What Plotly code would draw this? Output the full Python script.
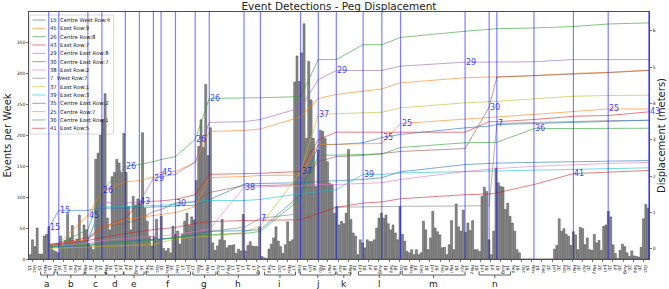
import plotly.graph_objects as go
import pandas as pd

# ---------------- data ----------------
week_center_start = "2015-09-23 12:00"
events = (
    [7, 31, 20, 50, 8, 8, 37, 40, 52, 20]
    + [14, 12, 10, 37, 20, 30, 73, 34, 54, 28]
    + [32, 71, 28, 55, 47, 25, 20, 15, 161, 171]
    + [200, 225, 267, 66, 47, 133, 140, 161, 155, 140]
    + [203, 140, 85, 47, 101, 87, 97, 90, 204, 82]
    + [61, 37, 21, 36, 64, 32, 69, 17, 13, 17]
    + [10, 53, 40, 45, 24, 40, 61, 74, 54, 68]
    + [63, 127, 182, 225, 180, 282, 167, 212, 26, 14]
    + [21, 31, 64, 30, 18, 22, 22, 23, 9, 16]
    + [13, 72, 13, 22, 28, 21, 20, 20, 52, 4]
    + [2, 1, 16, 24, 34, 52, 29, 20, 9, 23]
    + [60, 28, 31, 286, 328, 287, 333, 380, 195, 319]
    + [257, 195, 117, 176, 208, 206, 195, 157, 122, 120]
    + [74, 85, 55, 61, 57, 74, 177, 64, 42, 37]
    + [7, 31, 26, 18, 31, 28, 28, 31, 50, 66]
    + [74, 66, 71, 57, 47, 55, 42, 31, 85, 40]
    + [29, 12, 10, 15, 7, 15, 7, 10, 61, 47]
    + [15, 34, 77, 50, 44, 39, 18, 19, 7, 23]
    + [62, 15, 89, 52, 45, 79, 43, 58, 46, 62]
    + [15, 15, 12, 101, 116, 109, 31, 7, 45, 147]
    + [123, 117, 116, 80, 90, 69, 58, 45, 15, 10]
    + [0, 0, 0, 0, 0, 0, 0, 0, 0, 0]
    + [0, 0, 0, 0, 16, 22, 65, 45, 49, 40]
    + [37, 22, 44, 39, 15, 51, 49, 23, 34, 15]
    + [14, 40, 26, 30, 14, 53, 55, 77, 68, 23]
    + [9, 1, 14, 24, 20, 10, 4, 13, 5, 4]
    + [3, 19, 65, 88, 82]
)

survey_dates = ["2015-11-18", "2015-12-18", "2016-03-14", "2016-04-25", "2016-07-04",
                "2016-08-15", "2016-09-26", "2016-10-19", "2016-12-01", "2017-01-29",
                "2017-03-12", "2017-06-24", "2017-08-12", "2017-12-10", "2018-02-01",
                "2018-03-27", "2018-06-15", "2018-08-10", "2018-10-05", "2019-04-16",
                "2019-06-27", "2019-07-20", "2019-11-08", "2020-03-05", "2020-06-17",
                "2020-10-16"]

peg_ids = ["15", "45", "26", "43", "29", "30", "38", "7", "37", "39", "35", "25", "36", "41"]
peg_names = ["Centre West Row:4", "East Row:9", "Centre Row:8", "East Row:7",
             "Centre East Row:8", "Centre East Row:7", "East Row:2", "West Row:7",
             "East Row:1", "East Row:3", "Centre East Row:2", "Centre Row:7",
             "Centre East Row:1", "East Row:5"]

disp_15 = [0.58, 1.06, 1.06, 1.12, 1.12, 1.14, 1.16, 1.17, 1.19, 1.20, 1.35, 1.78, 1.80,
           1.82, 1.85, 1.87, 1.91, 1.96, 2.12, 2.32, 2.35, 2.36, 2.38, 2.40, 2.42, 2.43]
disp_45 = [0.12, 0.15, 0.92, 1.58, 1.84, 1.88, 1.98, 2.11, 2.13, 2.37, 3.23, 3.26, 3.30,
           3.63, 4.14, 4.25, 4.34, 4.40, 4.57, 4.71, 4.73, 4.73, 4.77, 4.83, 4.86, 4.92]
disp_26 = [0.12, 0.15, 0.53, 1.60, 2.27, 2.32, 2.40, 2.46, 2.54, 3.01, 4.14, 4.14, 4.16,
           4.19, 5.21, 5.21, 5.62, 5.62, 5.82, 5.99, 6.05, 6.06, 6.08, 6.12, 6.19, 6.22]
disp_43 = [0.12, 0.15, 0.31, 0.59, 0.83, 1.30, 1.31, 1.32, 1.36, 1.49, 2.05, 2.06, 2.08,
           2.13, 3.01, 3.21, 3.21, 3.21, 3.21, 3.21, 3.50, 3.50, 3.56, 3.65, 3.67, 3.77]
disp_29 = [0.06, 0.09, 0.20, 1.27, 1.27, 1.27, 1.95, 1.99, 2.05, 2.39, 3.48, 3.50, 3.56,
           3.88, 4.66, 4.91, 4.91, 4.91, 5.03, 5.14, 5.14, 5.14, 5.15, 5.21, 5.21, 5.21]
disp_30 = [0.09, 0.10, 0.26, 0.59, 0.70, 0.81, 1.03, 1.08, 1.26, 1.30, 1.55, 1.74, 1.74,
           1.77, 2.40, 2.54, 2.57, 2.62, 2.68, 2.76, 3.90, 4.73, 4.76, 4.81, 4.85, 4.91]
disp_38 = [0.06, 0.08, 0.15, 0.23, 0.28, 0.31, 0.34, 0.37, 0.39, 0.48, 0.53, 1.69, 1.70,
           1.74, 1.77, 1.77, 1.80, 1.82, 1.91, 2.13, 2.19, 2.21, 2.27, 2.32, 2.35, 2.38]
disp_7 = [0.04, 0.05, 0.09, 0.12, 0.17, 0.20, 0.23, 0.26, 0.31, 0.39, 0.48, 0.59, 0.84,
          0.97, 1.14, 1.15, 1.16, 1.16, 1.17, 1.18, 1.19, 3.45, 3.48, 3.50, 3.53, 3.54]
disp_37 = [0.01, 0.02, 0.04, 0.06, 0.08, 0.09, 0.12, 0.17, 0.28, 0.32, 0.35, 0.45, 0.64,
           2.12, 3.70, 3.72, 3.74, 3.76, 3.88, 4.02, 4.05, 4.06, 4.13, 4.20, 4.22, 4.23]
disp_39 = [0.05, 0.06, 0.26, 1.15, 1.16, 1.18, 1.19, 1.20, 1.22, 1.30, 1.33, 1.33, 1.36,
           1.52, 1.58, 1.63, 2.05, 2.05, 2.09, 2.13, 2.14, 2.15, 2.17, 2.19, 2.21, 2.23]
disp_35 = [0.04, 0.05, 0.09, 0.15, 0.20, 0.23, 0.26, 0.28, 0.31, 0.39, 0.48, 0.50, 0.53,
           1.49, 2.87, 2.87, 2.92, 3.06, 3.15, 3.33, 3.38, 3.42, 3.45, 3.49, 3.52, 3.54]
disp_25 = [0.09, 0.12, 0.26, 0.59, 0.81, 0.86, 0.92, 0.94, 1.00, 1.16, 1.96, 1.99, 2.02,
           2.03, 2.87, 2.88, 2.89, 2.90, 3.45, 3.56, 3.61, 3.63, 3.70, 3.77, 3.85, 3.85]
disp_36 = [0.06, 0.08, 0.12, 0.15, 0.17, 0.20, 0.23, 0.26, 0.30, 0.37, 0.39, 0.42, 0.48,
           1.38, 2.57, 2.58, 2.60, 2.61, 2.79, 2.92, 2.93, 2.93, 3.31, 3.31, 3.32, 3.32]
disp_41 = [0.09, 0.12, 0.23, 0.31, 0.42, 0.48, 0.53, 0.55, 0.59, 0.70, 0.75, 0.78, 0.79,
           0.80, 0.97, 1.14, 1.26, 1.29, 1.38, 1.49, 1.51, 1.54, 1.77, 2.07, 2.11, 2.16]

# peg labelled at each survey date
survey_label_peg = ["15", "15", "45", "26", "26", "43", "29", "45", "30", "26", "26", "38", "7",
                    "37", "37", "29", "39", "35", "25", "29", "30", "7", "36", "41", "25", "43"]

bracket_letters = list("abcdefghijklmn")
bracket_start = ["2015-10-25", "2015-12-14", "2016-03-06", "2016-05-08", "2016-06-30",
                 "2016-09-04", "2017-01-22", "2017-04-06", "2017-08-24", "2017-12-09",
                 "2018-03-29", "2018-06-01", "2018-10-10", "2019-05-28"]
bracket_end = ["2015-12-04", "2016-03-03", "2016-05-05", "2016-06-28", "2016-08-29",
               "2017-01-15", "2017-04-01", "2017-08-08", "2017-11-25", "2018-03-24",
               "2018-05-09", "2018-10-04", "2019-04-16", "2019-08-30"]

# ---------------- styling ----------------
FONT = "DejaVu Sans"
tab10 = ["#1f77b4", "#ff7f0e", "#2ca02c", "#d62728", "#9467bd",
         "#8c564b", "#e377c2", "#7f7f7f", "#bcbd22", "#17becf"]


def rgba(hexc, a):
    h = hexc.lstrip("#")
    return "rgba(%d,%d,%d,%.2f)" % (int(h[0:2], 16), int(h[2:4], 16), int(h[4:6], 16), a)


disp_series = [disp_15, disp_45, disp_26, disp_43, disp_29, disp_30, disp_38,
               disp_7, disp_37, disp_39, disp_35, disp_25, disp_36, disp_41]
peg_colors = [tab10[i % 10] for i in range(len(peg_ids))]
disp_by_peg = dict(zip(peg_ids, disp_series))

weeks = pd.date_range(week_center_start, periods=len(events), freq="7D")
sdates = pd.to_datetime(survey_dates)

fig = go.Figure()
fig.add_trace(go.Bar(
    x=weeks, y=events, yaxis="y",
    width=6 * 86400000,
    marker=dict(color="#8a8a8a", line=dict(color="#4d4d4d", width=0.5)),
    showlegend=False, hoverinfo="skip",
))
for pid, ser, col in zip(peg_ids, disp_series, peg_colors):
    fig.add_trace(go.Scatter(
        x=sdates, y=ser, yaxis="y2", mode="lines",
        line=dict(color=rgba(col, 0.6), width=1),
        showlegend=False, name=pid, hoverinfo="skip",
    ))

shapes = []
annotations = []

PW, PH, ML, MB_PX = 620.0, 247.0, 29.0, 259.0


def px_x(px):
    return (px - ML) / PW


def px_y(py):
    return (MB_PX - py) / PH


# legend box (below traces)
shapes.append(dict(type="rect", xref="paper", yref="paper",
                   x0=px_x(30), x1=px_x(113.5), y0=px_y(134), y1=px_y(15),
                   fillcolor="rgba(255,255,255,0.85)",
                   line=dict(color="#d0d0d0", width=0.8), layer="below"))
for i, (pid, nm, col) in enumerate(zip(peg_ids, peg_names, peg_colors)):
    yy = px_y(20 + 8.33 * i)
    shapes.append(dict(type="line", xref="paper", yref="paper",
                       x0=px_x(32.3), x1=px_x(45.7), y0=yy, y1=yy,
                       line=dict(color=rgba(col, 0.6), width=1), layer="above"))
    annotations.append(dict(xref="paper", yref="paper", x=px_x(47.5), y=yy,
                            text=pid + "\u00a0 " + nm, showarrow=False,
                            xanchor="left", yanchor="middle",
                            font=dict(family=FONT, size=5.3, color="#222")))

# survey vertical lines
for d in sdates:
    shapes.append(dict(type="line", xref="x", yref="paper", x0=d, x1=d, y0=0, y1=1,
                       line=dict(color="rgba(0,0,255,0.5)", width=1.2), layer="above"))

# survey labels
for k, (d, pid) in enumerate(zip(sdates, survey_label_peg)):
    annotations.append(dict(xref="x", yref="y2", x=d, y=disp_by_peg[pid][k],
                            text=pid, showarrow=False, xanchor="left", yanchor="middle",
                            xshift=-1,
                            font=dict(family=FONT, size=8, color="rgba(20,20,255,0.85)")))

# brackets below axis
y_top, y_mid, y_low, y_txt = px_y(271.5), px_y(275), px_y(278), px_y(284)
for letter, s, e in zip(bracket_letters, bracket_start, bracket_end):
    s, e = pd.Timestamp(s), pd.Timestamp(e)
    m = s + (e - s) / 2
    bl = dict(color="#333", width=0.8)
    shapes.append(dict(type="line", xref="x", yref="paper", x0=s, x1=e, y0=y_mid, y1=y_mid, line=bl))
    shapes.append(dict(type="line", xref="x", yref="paper", x0=s, x1=s, y0=y_mid, y1=y_top, line=bl))
    shapes.append(dict(type="line", xref="x", yref="paper", x0=e, x1=e, y0=y_mid, y1=y_top, line=bl))
    shapes.append(dict(type="line", xref="x", yref="paper", x0=m, x1=m, y0=y_mid, y1=y_low, line=bl))
    annotations.append(dict(xref="x", yref="paper", x=m, y=y_txt, text=letter,
                            showarrow=False, xanchor="center", yanchor="middle",
                            font=dict(family=FONT, size=9, color="#222")))

fig.update_layout(
    width=669, height=289,
    margin=dict(l=29, r=20, t=12, b=30, autoexpand=False),
    paper_bgcolor="white", plot_bgcolor="white",
    font=dict(family=FONT, color="#222"),
    title=dict(text="Event Detections - Peg Displacement", x=0.5067, xanchor="center",
               y=1 - 6 / 289, yanchor="middle", yref="container",
               font=dict(family=FONT, size=10.5, color="#222")),
    showlegend=False,
    hovermode=False,
    bargap=0,
    xaxis=dict(type="date", range=["2015-09-20", "2020-10-17"],
               tickmode="linear", tick0="2015-10-01", dtick="M1",
               tickformat="%b<br>%y", tickfont=dict(size=4.5, family=FONT, color="#222"),
               ticks="outside", ticklen=2, tickwidth=0.6, tickcolor="#222",
               showline=True, mirror=True, linecolor="#222", linewidth=0.8,
               showgrid=False, zeroline=False, automargin=False),
    yaxis=dict(range=[0, 399], tickmode="array", tickvals=[0, 50, 100, 150, 200, 250, 300, 350],
               tickfont=dict(size=4.5, family=FONT, color="#222"),
               ticks="outside", ticklen=2, tickwidth=0.6, tickcolor="#222",
               showline=True, linecolor="#222", linewidth=0.8,
               showgrid=False, zeroline=False, automargin=False,
               title=dict(text="Events per Week", standoff=3,
                          font=dict(size=10, family=FONT, color="#222"))),
    yaxis2=dict(range=[-0.28, 6.52], overlaying="y", side="right",
                tickmode="linear", tick0=0, dtick=1,
                tickfont=dict(size=4.5, family=FONT, color="#222"),
                ticks="outside", ticklen=2, tickwidth=0.6, tickcolor="#222",
                showline=True, linecolor="#222", linewidth=0.8,
                showgrid=False, zeroline=False, automargin=False,
                title=dict(text="Displacement (meters)", standoff=2,
                           font=dict(size=10, family=FONT, color="#222"))),
    shapes=shapes,
    annotations=annotations,
)

fig.write_html("out.html", config={"displayModeBar": False, "staticPlot": True},
               post_script="document.body.style.margin='0';document.body.style.padding='0';")
